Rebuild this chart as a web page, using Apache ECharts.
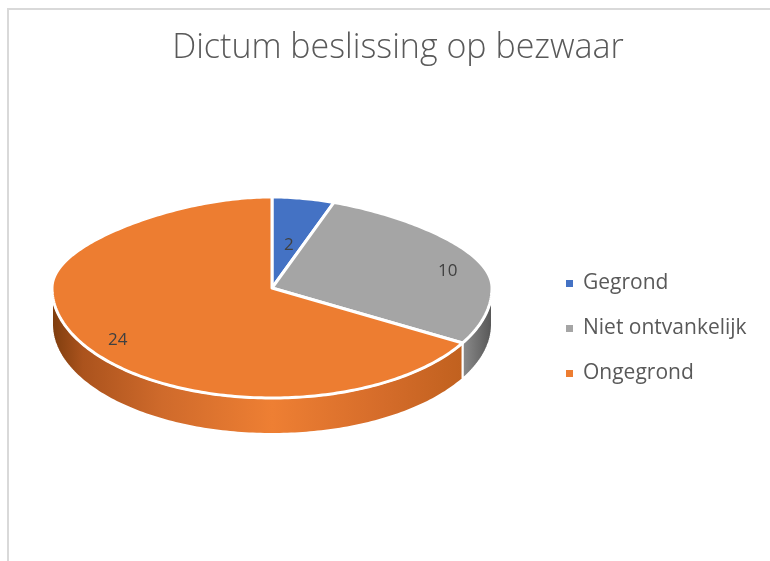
<!DOCTYPE html>
<html lang="nl">
<head>
    <meta charset="UTF-8">
    <script src="https://cdn.jsdelivr.net/npm/echarts@6/dist/echarts.min.js"></script>
    <title>Dictum beslissing op bezwaar</title>
    <style>
        html, body { margin: 0; padding: 0; background: #fff; }
    </style>
</head>
<body>
    <div id="pieChart_main" style="width: 770px; height: 561px"></div>
<script>

    // data
    var categories = ['Gegrond', 'Niet ontvankelijk', 'Ongegrond'];
    var counts = [2, 10, 24];

    var sliceColors = ['#4472c4', '#a5a5a5', '#ed7d31'];

    // pie geometry (tilted disc)
    var cx = 272, cy = 288, rx = 220, ryTop = 91, ryBottom = 110, depth = 36;
    // label placement as fraction of radius (x, y)
    var labelFrac = [[0.55, 0.48], [0.87, 0.55], [0.81, 0.95]];

    var PieChart_Main = echarts.init(document.getElementById('pieChart_main'));

    var total = counts.reduce(function (a, b) { return a + b; }, 0);

    function pt(phi, dz) {
        var s = Math.sin(phi), c = Math.cos(phi);
        var squeeze = c > 0 ? 1 - 0.2 * c * c : 1;
        return [cx + rx * s * squeeze, cy - (c > 0 ? ryTop : ryBottom) * c + (dz || 0)];
    }

    function arc(a0, a1, dz) {
        var pts = [];
        var n = Math.max(2, Math.ceil(Math.abs(a1 - a0) / (Math.PI / 180)));
        for (var i = 0; i <= n; i++) {
            pts.push(pt(a0 + (a1 - a0) * i / n, dz));
        }
        return pts;
    }

    var wallFill = [
        null,
        {type: 'linear', x: cx - rx, y: 0, x2: cx + rx, y2: 0, global: true, colorStops: [
            {offset: 0, color: '#555555'}, {offset: 0.5, color: '#a5a5a5'},
            {offset: 0.93, color: '#8e8e8e'}, {offset: 1, color: '#565656'}]},
        {type: 'linear', x: cx - rx, y: 0, x2: cx + rx, y2: 0, global: true, colorStops: [
            {offset: 0, color: '#7e3d0e'}, {offset: 0.07, color: '#ab531d'},
            {offset: 0.25, color: '#cf6a2b'}, {offset: 0.5, color: '#ee7f33'},
            {offset: 0.75, color: '#d56c2a'}, {offset: 0.93, color: '#c1611f'},
            {offset: 1, color: '#a04f1b'}]}
    ];

    function renderSlice(params, api) {
        var s = params.seriesIndex;
        var value = api.value(0);
        var before = 0;
        for (var i = 0; i < s; i++) before += counts[i];
        var a0 = before / total * Math.PI * 2;
        var a1 = (before + value) / total * Math.PI * 2;
        var children = [];

        // front wall: only the part between 90 and 270 degrees shows
        var b0 = Math.max(a0, Math.PI / 2), b1 = Math.min(a1, Math.PI * 1.5);
        if (b1 > b0) {
            var wall = arc(b0, b1, 0).concat(arc(b1, b0, depth));
            children.push({
                type: 'polygon', z2: 0,
                shape: {points: wall},
                style: {fill: wallFill[s] || sliceColors[s], stroke: '#fff', lineWidth: 2}
            });
        }

        var top = [[cx, cy]].concat(arc(a0, a1, 0));
        children.push({
            type: 'polygon', z2: 1,
            shape: {points: top},
            style: {fill: sliceColors[s], stroke: '#fff', lineWidth: 3, lineJoin: 'round'}
        });

        var mid = (a0 + a1) / 2;
        var edge = pt(mid, 0);
        var f = labelFrac[s];
        children.push({
            type: 'text', z2: 2,
            style: {
                text: String(value),
                x: cx + (edge[0] - cx) * f[0],
                y: cy + (edge[1] - cy) * f[1],
                fill: '#404040',
                fontSize: 17,
                fontFamily: 'Open Sans',
                align: 'center',
                verticalAlign: 'middle'
            }
        });
        return {type: 'group', children: children};
    }

    var series = [];
    for (var i in categories) {
        series.push({
            name: categories[i],
            type: 'custom',
            coordinateSystem: 'none',
            itemStyle: {color: sliceColors[i]},
            renderItem: renderSlice,
            data: [[counts[i]]]
        });
    }

    option = {
        animation: false,
        title: {
            text: 'Dictum beslissing op bezwaar',
            left: 393,
            top: 26,
            textAlign: 'center',
            textStyle: {
                color: '#595959',
                fontSize: 34,
                fontWeight: 300,
                fontFamily: 'Open Sans'
            }
        },
        legend: {
            orient: 'vertical',
            left: 561,
            top: 268,
            icon: 'rect',
            itemWidth: 7,
            itemHeight: 7,
            itemGap: 24,
            data: categories,
            textStyle: {
                color: '#595959',
                fontSize: 21,
                lineHeight: 21,
                fontFamily: 'Open Sans',
                padding: [0, 0, 0, 5]
            }
        },
        graphic: [{
            type: 'rect',
            shape: {x: 8, y: 9, width: 800, height: 600},
            style: {fill: 'none', stroke: '#d9d9d9', lineWidth: 2},
            silent: true
        }],
        series: series
    };

    PieChart_Main.setOption(option);

</script>
</body>
</html>
